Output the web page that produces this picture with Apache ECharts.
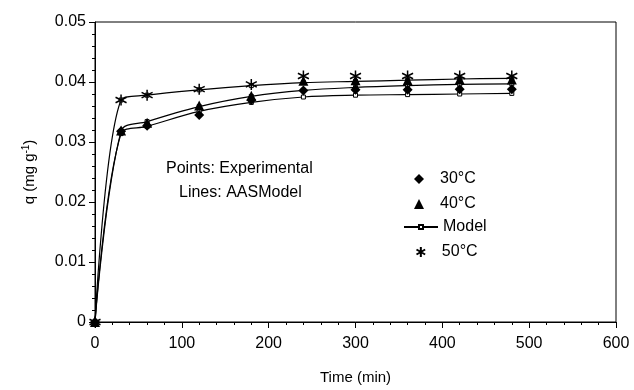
<!DOCTYPE html>
<html><head><meta charset="utf-8">
<script src="https://cdn.jsdelivr.net/npm/echarts@6/dist/echarts.min.js"></script>
<style>html,body{margin:0;padding:0;background:#fff}#c{width:634px;height:390px}</style>
</head><body><div id="c"></div>
<script>
const times = [0, 30, 60, 120, 180, 240, 300, 360, 420, 480];
const exp30 = [0, 0.0318, 0.0327, 0.0345, 0.0370, 0.0386, 0.0387, 0.0387, 0.0388, 0.0388];
const exp40 = [0, 0.0319, 0.0332, 0.0361, 0.0377, 0.0402, 0.0403, 0.0403, 0.0404, 0.0404];
const exp50 = [0, 0.0370, 0.0378, 0.0388, 0.0396, 0.0410, 0.0410, 0.0410, 0.0410, 0.0410];
const model30 = [0, 0.0314, 0.0326, 0.0351, 0.0366, 0.0375, 0.0378, 0.0379, 0.0380, 0.0381];
const model40 = [0, 0.0318, 0.0334, 0.0359, 0.0376, 0.0386, 0.0391, 0.0394, 0.0396, 0.0397];
const model50 = [0, 0.0370, 0.0378, 0.0387, 0.0394, 0.0399, 0.0401, 0.0403, 0.0405, 0.0406];
const xTicks = {min: 0, max: 600, interval: 100};
const yTicks = {min: 0, max: 0.05, interval: 0.01};
const legendNames = ['30°C', '40°C', 'Model', '50°C'];

const FONT = 'Liberation Sans';
const starPath = 'path://M0,-10L0,10M-8.66,-5L8.66,5M-8.66,5L8.66,-5';
const pair = arr => times.map((t, i) => [t, arr[i]]);

function modelSeries(arr) {
  return {
    name: 'Model', type: 'line', data: pair(arr), smooth: 0.35,
    symbol: 'rect', symbolSize: 4, showSymbol: true,
    lineStyle: {color: '#000', width: 1.2},
    itemStyle: {color: '#fff', borderColor: '#000', borderWidth: 1},
    z: 2
  };
}

const legTxt = {color: '#000', fontSize: 16, fontFamily: FONT};
function symLegend(name, top) {
  return {data: [name], orient: 'vertical', left: 409, top: top, itemWidth: 10, itemHeight: 10,
    selectedMode: false, textStyle: Object.assign({padding: [0, 0, 0, 11]}, legTxt)};
}

const chart = echarts.init(document.getElementById('c'), null, {renderer: 'canvas'});
chart.setOption({
  animation: false,
  backgroundColor: '#fff',
  textStyle: {fontFamily: FONT},
  grid: {left: 95, right: 18, top: 22, bottom: 68, show: true, borderColor: '#000', borderWidth: 1},
  xAxis: {
    type: 'value', min: xTicks.min, max: xTicks.max, interval: xTicks.interval,
    name: 'Time (min)', nameLocation: 'middle', nameGap: 48,
    nameTextStyle: {color: '#000', fontSize: 15, fontFamily: FONT},
    axisLine: {show: true, lineStyle: {color: '#000', width: 1}},
    axisTick: {show: true, length: 6, lineStyle: {color: '#000'}},
    minorTick: {show: true, splitNumber: 5, length: 3, lineStyle: {color: '#000'}},
    splitLine: {show: false},
    axisLabel: {color: '#000', fontSize: 16, fontFamily: FONT, margin: 14}
  },
  yAxis: {
    type: 'value', min: yTicks.min, max: yTicks.max, interval: yTicks.interval,
    name: 'q (mg g{sup|-1})', nameLocation: 'middle', nameGap: 56,
    nameTextStyle: {color: '#000', fontSize: 15, fontFamily: FONT,
      rich: {sup: {fontSize: 10, verticalAlign: 'top', padding: [0, 0, 8, 0], color: '#000', fontFamily: FONT}}},
    axisLine: {show: true, lineStyle: {color: '#000', width: 1}},
    axisTick: {show: true, length: 6, lineStyle: {color: '#000'}},
    minorTick: {show: true, splitNumber: 5, length: 3, lineStyle: {color: '#000'}},
    splitLine: {show: false},
    axisLabel: {color: '#000', fontSize: 16, fontFamily: FONT, margin: 9,
      formatter: v => v === 0 ? '0' : String(+v.toFixed(2))}
  },
  legend: [
    symLegend(legendNames[0], 166),
    symLegend(legendNames[1], 191),
    {data: [legendNames[2]], left: 398, top: 214, itemWidth: 34, itemHeight: 5,
     selectedMode: false, textStyle: legTxt},
    symLegend(legendNames[3], 239)
  ],
  graphic: [
    {type: 'text', left: 166, top: 161, style: {text: 'Points: Experimental', fill: '#000', fontSize: 16, fontFamily: FONT}},
    {type: 'text', left: 179, top: 185, style: {text: 'Lines: AASModel', fill: '#000', fontSize: 16, fontFamily: FONT}}
  ],
  series: [
    modelSeries(model30),
    modelSeries(model40),
    modelSeries(model50),
    {name: '30°C', type: 'scatter', data: pair(exp30), symbol: 'diamond', symbolSize: 10,
     itemStyle: {color: '#000', opacity: 1}, z: 3},
    {name: '40°C', type: 'scatter', data: pair(exp40), symbol: 'triangle', symbolSize: 10,
     itemStyle: {color: '#000', opacity: 1}, z: 3},
    {name: '50°C', type: 'scatter', data: pair(exp50), symbol: starPath, symbolSize: 11,
     itemStyle: {color: 'none', borderColor: '#000', borderWidth: 1.5, opacity: 1}, z: 3}
  ]
});
</script></body></html>
